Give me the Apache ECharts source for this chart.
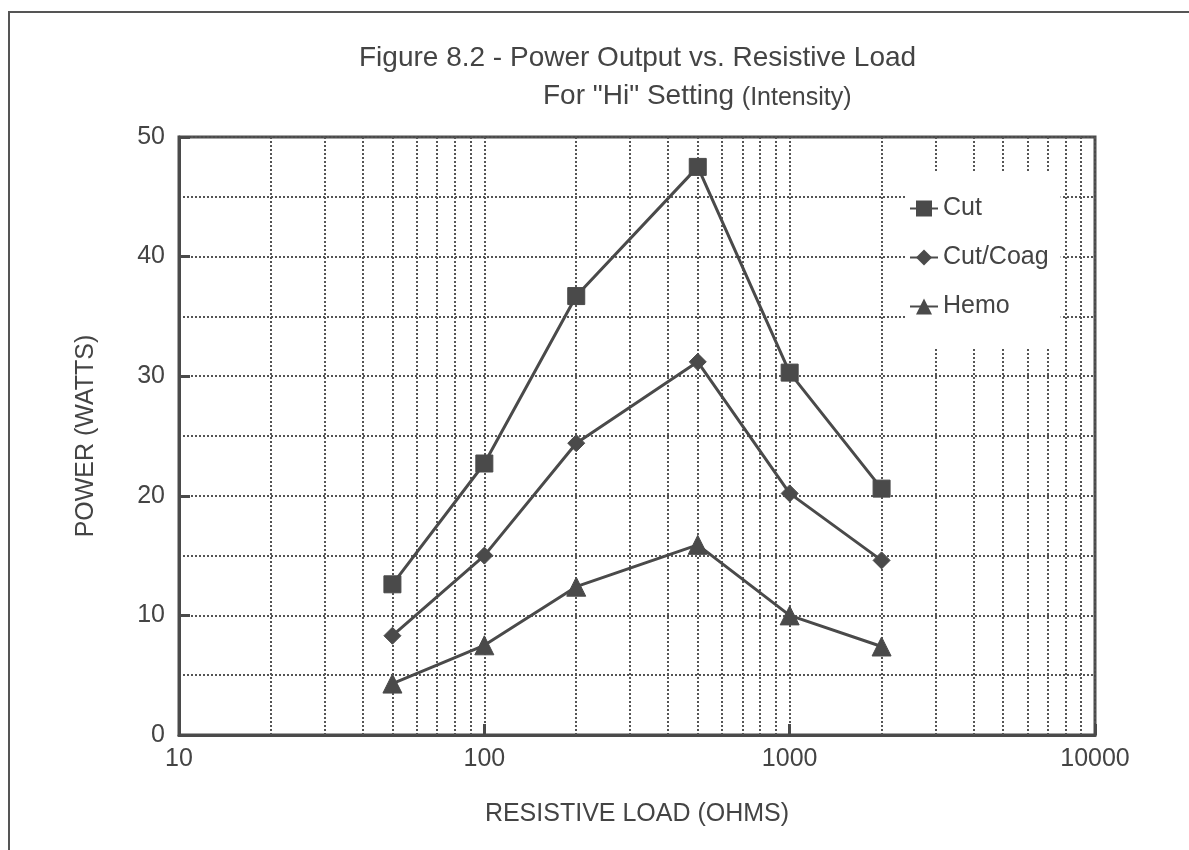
<!DOCTYPE html>
<html>
<head>
<meta charset="utf-8">
<title>Power Output vs. Resistive Load</title>
<script src="https://cdn.jsdelivr.net/npm/echarts@6/dist/echarts.min.js"></script>
<style>
  html, body { margin: 0; padding: 0; background: #fff; }
  #chart { width: 1189px; height: 850px; }
</style>
</head>
<body>
<div id="chart"></div>
<script>
// resistive load (ohms) where each reading was taken
var loads = [50, 100, 200, 500, 1000, 2000];
// power (watts)
var cut = [12.6, 22.7, 36.7, 47.5, 30.3, 20.6];
var cutCoag = [8.3, 15.0, 24.4, 31.2, 20.2, 14.6];
var hemo = [4.3, 7.5, 12.4, 15.9, 10.0, 7.4];
var seriesNames = ['Cut', 'Cut/Coag', 'Hemo'];
// in-between lines of the log grid
var minorLoads = [20, 30, 40, 50, 60, 70, 80, 90, 200, 300, 400, 500, 600, 700, 800, 900,
                  2000, 3000, 4000, 5000, 6000, 7000, 8000, 9000];

var ink = '#4a4a4a';
var font = "'Liberation Sans', Arial, Helvetica, sans-serif";

function pairs(xs, ys) {
    var out = [];
    for (var i = 0; i < xs.length; i++) out.push([xs[i], ys[i]]);
    return out;
}

function lineSeries(name, values, symbol, size) {
    return {
        name: name,
        type: 'line',
        data: pairs(loads, values),
        symbol: symbol,
        symbolSize: size,
        showAllSymbol: true,
        z: 3,
        lineStyle: { color: ink, width: 3 },
        itemStyle: { color: ink, borderColor: ink },
        emphasis: { disabled: true }
    };
}

var dotted = { color: '#555', width: 2, type: [2, 2] };

var chart = echarts.init(document.getElementById('chart'), null, { renderer: 'canvas' });

var option = {
    backgroundColor: '#fff',
    animation: false,
    textStyle: { fontFamily: font },
    title: [
        {
            text: 'Figure 8.2 - Power Output vs. Resistive Load',
            left: 354, top: 39,
            textStyle: { fontFamily: font, fontSize: 28, fontWeight: 'normal', color: '#444' }
        },
        {
            text: 'For "Hi" Setting {s|(Intensity)}',
            left: 538, top: 77,
            textStyle: {
                fontFamily: font, fontSize: 28, fontWeight: 'normal', color: '#444',
                rich: { s: { fontFamily: font, fontSize: 25, color: '#444', padding: [4, 0, 0, 0] } }
            }
        }
    ],
    graphic: [
        {
            type: 'rect',
            shape: { x: 9, y: 12, width: 1200, height: 860 },
            style: { fill: 'none', stroke: '#555', lineWidth: 2 },
            silent: true,
            z: 0
        }
    ],
    legend: {
        data: seriesNames,
        orient: 'vertical',
        left: 905,
        top: 172,
        z: 10,
        padding: [24, 12, 28, 4],
        itemGap: 24,
        itemWidth: 28,
        itemHeight: 20,
        backgroundColor: '#fff',
        selectedMode: false,
        textStyle: { fontFamily: font, fontSize: 25, color: '#444' }
    },
    grid: {
        left: 179, right: 94, top: 137, bottom: 115,
        show: true,
        borderColor: ink, borderWidth: 3,
        containLabel: false
    },
    xAxis: {
        type: 'log',
        logBase: 10,
        min: 10,
        max: 10000,
        name: 'RESISTIVE LOAD (OHMS)',
        nameLocation: 'middle',
        nameGap: 67,
        nameTextStyle: { fontFamily: font, fontSize: 25, color: '#444' },
        axisLine: { lineStyle: { color: ink, width: 3 } },
        axisTick: { inside: true, length: 11, lineStyle: { color: ink, width: 3 } },
        axisLabel: {
            fontFamily: font, fontSize: 25, color: '#444', margin: 12,
            formatter: function (v) { return String(Math.round(v)); }
        },
        splitLine: { show: true, lineStyle: dotted },
        minorTick: { show: false }
    },
    yAxis: {
        type: 'value',
        min: 0,
        max: 50,
        interval: 10,
        name: 'POWER (WATTS)',
        nameLocation: 'middle',
        nameGap: 80,
        nameTextStyle: { fontFamily: font, fontSize: 25, color: '#444' },
        axisLine: { show: true, lineStyle: { color: ink, width: 3 } },
        axisTick: { show: true, inside: true, length: 11, lineStyle: { color: ink, width: 3 } },
        axisLabel: { fontFamily: font, fontSize: 25, color: '#444', margin: 14 },
        splitLine: { show: true, lineStyle: dotted },
        minorTick: { show: false, splitNumber: 2 },
        minorSplitLine: { show: true, lineStyle: dotted }
    },
    series: [
        {
            name: 'grid',
            type: 'line',
            data: [],
            z: 1,
            silent: true,
            markLine: {
                silent: true,
                z: 1,
                symbol: 'none',
                label: { show: false },
                lineStyle: dotted,
                emphasis: { disabled: true },
                data: minorLoads.map(function (v) { return { xAxis: v }; })
            }
        },
        lineSeries('Cut', cut, 'rect', 17),
        lineSeries('Cut/Coag', cutCoag, 'diamond', 17),
        lineSeries('Hemo', hemo, 'triangle', 19)
    ]
};

chart.setOption(option);
</script>
</body>
</html>
